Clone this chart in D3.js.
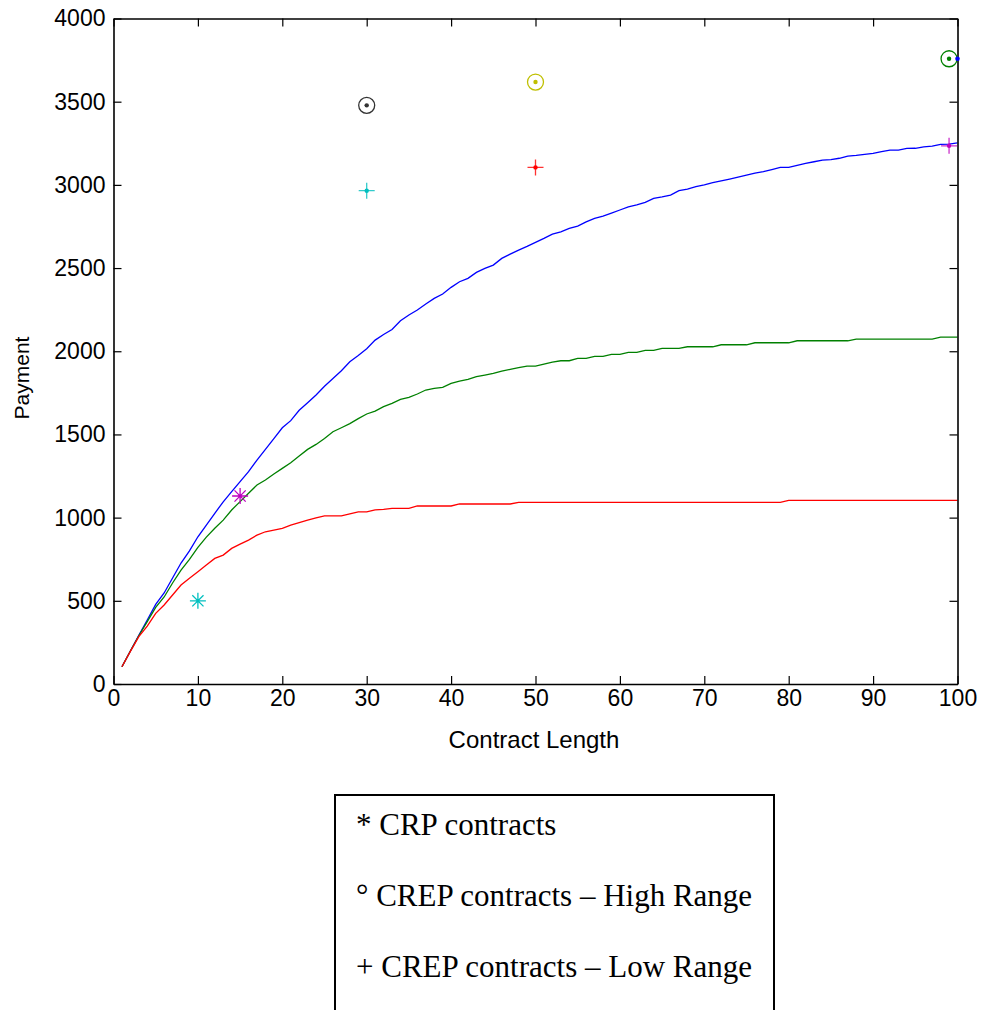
<!DOCTYPE html>
<html>
<head>
<meta charset="utf-8">
<script src="https://cdn.jsdelivr.net/npm/d3@7"></script>
<style>
  body { margin: 0; background: #fff; }
  svg { display: block; }
  .tick text { font-family: "Liberation Sans", Arial, sans-serif; }
</style>
</head>
<body>
<svg></svg>
<script>
const width = 983, height = 1010;
const svg = d3.select("svg").attr("width", width).attr("height", height);

// contract length 1..100
const contractLen = d3.range(1, 101);

// payment curves
const blueVals = [
  104,198,292,385,478,547,637,727,800,885,
  955,1026,1095,1156,1216,1276,1346,1410,1475,1540,
  1583,1645,1690,1737,1790,1836,1883,1937,1975,2015,
  2067,2101,2131,2183,2218,2248,2284,2318,2344,2384,
  2418,2438,2474,2498,2518,2558,2584,2608,2630,2654,
  2678,2704,2718,2738,2752,2778,2799,2812,2830,2849,
  2868,2880,2895,2919,2928,2939,2965,2975,2990,3000,
  3013,3024,3035,3046,3058,3070,3079,3092,3105,3105,
  3117,3129,3139,3149,3152,3160,3173,3177,3183,3189,
  3200,3209,3209,3219,3220,3228,3233,3243,3245,3253
];
const greenVals = [
  104,198,290,375,461,523,607,685,749,821,
  883,936,985,1046,1096,1146,1196,1226,1262,1296,
  1330,1370,1410,1440,1475,1516,1540,1565,1595,1623,
  1640,1667,1687,1711,1723,1743,1767,1777,1783,1807,
  1821,1831,1847,1857,1867,1881,1891,1901,1911,1911,
  1923,1935,1943,1943,1957,1957,1969,1969,1981,1981,
  1993,1993,2005,2005,2017,2017,2017,2027,2027,2027,
  2027,2039,2039,2039,2039,2051,2051,2051,2051,2051,
  2063,2063,2063,2063,2063,2063,2063,2073,2073,2073,
  2073,2073,2073,2073,2073,2073,2073,2085,2085,2085
];
const redVals = [
  104,196,285,348,425,475,535,595,635,675,
  715,755,775,815,841,865,895,915,925,936,
  955,970,985,998,1010,1010,1010,1022,1034,1034,
  1046,1050,1056,1056,1056,1070,1070,1070,1070,1070,
  1082,1082,1082,1082,1082,1082,1082,1092,1092,1092,
  1092,1092,1092,1092,1092,1092,1092,1092,1092,1092,
  1092,1092,1092,1092,1092,1092,1092,1092,1092,1092,
  1092,1092,1092,1092,1092,1092,1092,1092,1092,1104,
  1104,1104,1104,1104,1104,1104,1104,1104,1104,1104,
  1104,1104,1104,1104,1104,1104,1104,1104,1104,1104
];

// contract points
const crpPoints = [
  { x: 10, y: 500, color: "#00bfbf" },
  { x: 15, y: 1130, color: "#bf00bf" }
];
const highPoints = [
  { x: 30, y: 3478, color: "#333333" },
  { x: 50, y: 3618, color: "#bfbf00" },
  { x: 99, y: 3758, color: "#008000" }
];
const lowPoints = [
  { x: 30, y: 2965, color: "#00bfbf" },
  { x: 50, y: 3105, color: "#ff0000" },
  { x: 99, y: 3235, color: "#bf00bf" }
];
const extraDots = [{ x: 100, y: 3758, color: "#0000ff" }];

const xTicks = d3.range(0, 101, 10);
const yTicks = d3.range(0, 4001, 500);
const legendItems = ["* CRP contracts", "\u00b0 CREP contracts \u2013 High Range", "+ CREP contracts \u2013 Low Range"];

const plotLeft = 113.5, plotRight = 957.5, plotTop = 18.5, plotBottom = 684;
const x = d3.scaleLinear().domain([0, 100]).range([plotLeft, plotRight]);
const y = d3.scaleLinear().domain([0, 4000]).range([plotBottom, plotTop]);

// lines
const line = d3.line().x((d, i) => x(contractLen[i])).y(d => y(d));
[[blueVals, "#0000ff"], [greenVals, "#008000"], [redVals, "#ff0000"]].forEach(([vals, col]) => {
  svg.append("path")
    .datum(vals)
    .attr("d", line)
    .attr("fill", "none")
    .attr("stroke", col)
    .attr("stroke-width", 1.3);
});

// axes with inward ticks on all four sides
const tickLen = 8;
const fontSize = 23;
const fmt = d3.format("d");
const gx = svg.append("g").attr("transform", `translate(0,${plotBottom})`)
  .call(d3.axisBottom(x).tickValues(xTicks).tickFormat(fmt).tickSizeInner(-tickLen).tickSizeOuter(0).tickPadding(6));
const gy = svg.append("g").attr("transform", `translate(${plotLeft},0)`)
  .call(d3.axisLeft(y).tickValues(yTicks).tickFormat(fmt).tickSizeInner(-tickLen).tickSizeOuter(0).tickPadding(8));
const gt = svg.append("g").attr("transform", `translate(0,${plotTop})`)
  .call(d3.axisTop(x).tickValues(xTicks).tickSizeInner(-tickLen).tickSizeOuter(0).tickFormat(""));
const gr = svg.append("g").attr("transform", `translate(${plotRight},0)`)
  .call(d3.axisRight(y).tickValues(yTicks).tickSizeInner(-tickLen).tickSizeOuter(0).tickFormat(""));

[gx, gy, gt, gr].forEach(g => {
  g.select(".domain").attr("stroke", "#000").attr("stroke-width", 1.6);
  g.selectAll(".tick line").attr("stroke", "#000").attr("stroke-width", 1.2);
  g.selectAll(".tick text").attr("font-size", fontSize).attr("fill", "#000");
});

// axis labels
svg.append("text")
  .attr("x", 534)
  .attr("y", 748)
  .attr("text-anchor", "middle")
  .attr("font-family", "Liberation Sans, Arial, sans-serif")
  .attr("font-size", 24)
  .text("Contract Length");
svg.append("text")
  .attr("transform", `translate(29,378) rotate(-90)`)
  .attr("text-anchor", "middle")
  .attr("font-family", "Liberation Sans, Arial, sans-serif")
  .attr("font-size", 21)
  .text("Payment");

// markers
const r = 8;
const starPath = `M${-r},0L${r},0M0,${-r}L0,${r}M${-r*0.7},${-r*0.7}L${r*0.7},${r*0.7}M${-r*0.7},${r*0.7}L${r*0.7},${-r*0.7}`;
const plusPath = `M${-r},0L${r},0M0,${-r}L0,${r}`;

svg.selectAll(".crp").data(crpPoints).enter().append("path")
  .attr("class", "crp")
  .attr("transform", d => `translate(${x(d.x)},${y(d.y)})`)
  .attr("d", starPath)
  .attr("stroke", d => d.color).attr("stroke-width", 1.3).attr("fill", "none");

const hi = svg.selectAll(".hi").data(highPoints).enter().append("g")
  .attr("class", "hi")
  .attr("transform", d => `translate(${x(d.x)},${y(d.y)})`);
hi.append("circle").attr("r", r).attr("fill", "none").attr("stroke", d => d.color).attr("stroke-width", 1.3);
hi.append("circle").attr("r", 2.2).attr("fill", d => d.color);

const lo = svg.selectAll(".lo").data(lowPoints).enter().append("g")
  .attr("class", "lo")
  .attr("transform", d => `translate(${x(d.x)},${y(d.y)})`);
lo.append("path").attr("d", plusPath).attr("stroke", d => d.color).attr("stroke-width", 1.3).attr("opacity", 0.8);
lo.append("circle").attr("r", 2.2).attr("fill", d => d.color);

svg.selectAll(".dot").data(extraDots).enter().append("circle")
  .attr("class", "dot")
  .attr("cx", d => x(d.x)).attr("cy", d => y(d.y))
  .attr("r", 2.3).attr("fill", d => d.color);

// legend box
svg.append("rect")
  .attr("x", 335).attr("y", 795)
  .attr("width", 439).attr("height", 300)
  .attr("fill", "none").attr("stroke", "#000").attr("stroke-width", 2);

svg.selectAll(".leg").data(legendItems).enter().append("text")
  .attr("class", "leg")
  .attr("x", 356)
  .attr("y", (d, i) => 835 + i * 71)
  .attr("font-family", "Liberation Serif, 'Times New Roman', serif")
  .attr("font-size", 31)
  .text(d => d);
</script>
</body>
</html>
